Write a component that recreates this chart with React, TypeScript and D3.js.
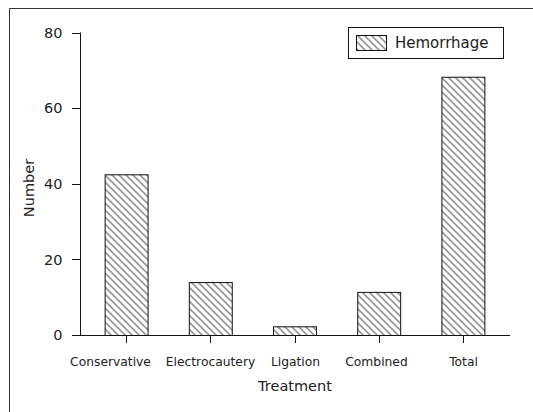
import React from "react";
import * as d3 from "d3";

const categories = ["Conservative", "Electrocautery", "Ligation", "Combined", "Total"];
const values = [42.5, 14, 2.3, 11.4, 68.3];
const yTicks = [0, 20, 40, 60, 80];
const seriesName = "Hemorrhage";

export default function App() {
  const W = 533, H = 412;
  const x = d3.scaleBand<string>().domain(categories).range([84, 505]).paddingInner(0.49).paddingOuter(0.245);
  const y = d3.scaleLinear().domain([0, 80]).range([335, 32.5]);
  const font = "'DejaVu Sans', sans-serif";
  const textColor = "#222";
  const P = 7;
  return (
    <svg width={W} height={H} style={{ position: "absolute", left: 0, top: 0 }}>
      <defs>
        <pattern id="hatch" patternUnits="userSpaceOnUse" width={P} height={P}>
          <rect width={P} height={P} fill="#fff" />
          <path d={`M-1,-1 L${P + 1},${P + 1} M-${P + 1},-1 L1,${P + 1} M${P - 1},-1 L${2 * P + 1},${P + 1}`} stroke="#999" strokeWidth={1.7} />
        </pattern>
      </defs>
      <rect width={W} height={H} fill="#fff" />
      <path d={`M9.5,${H} V8.5 H${W}`} fill="none" stroke="#333" strokeWidth={1} />
      {categories.map((c, i) => (
        <rect key={c} x={x(c)! + 0.5} y={y(values[i]) + 0.5} width={x.bandwidth()} height={y(0) - y(values[i])}
          fill="url(#hatch)" stroke="#111" strokeWidth={1} />
      ))}
      <line x1={80.5} x2={80.5} y1={y(80)} y2={y(0) + 0.5} stroke="#111" />
      {yTicks.map(t => (
        <g key={t}>
          <line x1={72} x2={80.5} y1={Math.round(y(t)) + 0.5} y2={Math.round(y(t)) + 0.5} stroke="#111" />
          <text x={62.5} y={y(t)} dy="0.36em" textAnchor="end" fontFamily={font} fontSize={14.5} fill={textColor}>{t}</text>
        </g>
      ))}
      <line x1={80} x2={510} y1={335.5} y2={335.5} stroke="#111" />
      {categories.map((c, i) => {
        const cx = Math.round(x(c)! + x.bandwidth() / 2) + 0.5;
        const dx = i === 0 ? -16 : i === 3 ? -3 : 0;
        return (
          <g key={c}>
            <line x1={cx} x2={cx} y1={335.5} y2={343} stroke="#111" />
            <text x={cx + dx} y={366} textAnchor="middle" fontFamily={font} fontSize={12.3} fill={textColor}>{c}</text>
          </g>
        );
      })}
      <text x={295} y={391} textAnchor="middle" fontFamily={font} fontSize={14.5} fill={textColor}>Treatment</text>
      <text transform={`translate(34,188) rotate(-90)`} textAnchor="middle" fontFamily={font} fontSize={14.5} fill={textColor}>Number</text>
      <rect x={348.5} y={27.5} width={155} height={31} fill="#fff" stroke="#111" />
      <rect x={356.5} y={35.5} width={30} height={15} fill="url(#hatch)" stroke="#111" />
      <text x={395} y={47.5} fontFamily={font} fontSize={15} fill={textColor}>{seriesName}</text>
    </svg>
  );
}
